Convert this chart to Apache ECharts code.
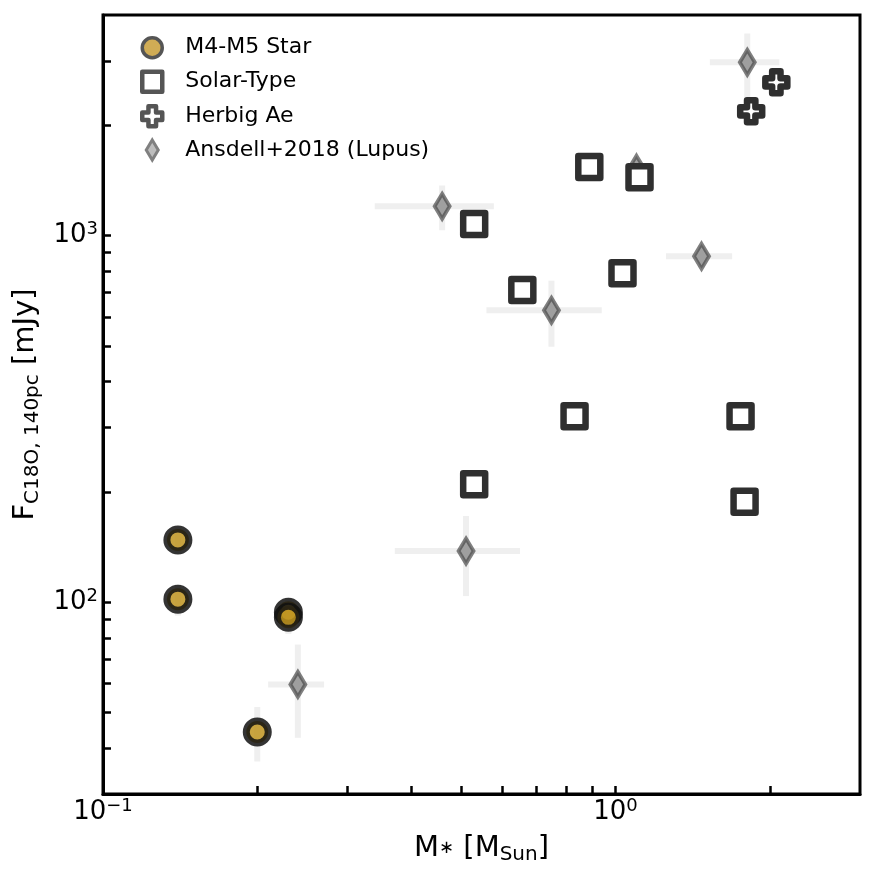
<!DOCTYPE html>
<html>
<head>
<meta charset="utf-8">
<script src="https://cdn.jsdelivr.net/npm/echarts@6/dist/echarts.min.js"></script>
<style>
html, body { margin: 0; padding: 0; background: #fff; }
#main { width: 875px; height: 875px; }
</style>
</head>
<body>
<div id="main"></div>
<script>
// M4-M5 stars
var m4Mass = [0.140, 0.140, 0.230, 0.230, 0.200];
var m4Flux = [148, 102, 94, 91, 44.3];
var m4FluxErr = [12, 10, 9, 9, 7.5];

// solar-type
var solarMass = [0.530, 0.889, 1.114, 0.658, 1.032, 0.832, 1.754, 0.530, 1.786];
var solarFlux = [1076, 1539, 1443, 711, 790, 322, 322, 210, 188];

// Herbig Ae
var herbigMass = [2.06, 1.84];
var herbigFlux = [2620, 2184];

// Ansdell+2018 (Lupus)
var lupusMass = [1.808, 1.099, 0.459, 1.472, 0.750, 0.511, 0.240];
var lupusMassErr = [0.28, 0.04, 0.12, 0.217, 0.19, 0.14, 0.03];
var lupusFlux = [2971, 1528, 1203, 879, 626, 138, 59.7];
var lupusFluxErr = [590, 80, 168, 60, 128, 34, 17];

// ticks
var xMajor = [0.1, 1];
var xTicks = [0.2, 0.3, 0.4, 0.5, 0.6, 0.7, 0.8, 0.9, 1, 2];
var yMajor = [100, 1000];
var yTicks = [40, 50, 60, 70, 80, 90, 100, 200, 300, 400, 500, 600, 700, 800, 900, 1000, 2000, 3000];

var FONT = 'DejaVu Sans';

function zip(xs, ys) {
	return xs.map(function (x, i) { return [x, ys[i]]; });
}

var m4Err = m4Mass.map(function (x, i) { return [x, m4Flux[i], 0, m4FluxErr[i]]; });
var lupusErr = lupusMass.map(function (x, i) { return [x, lupusFlux[i], lupusMassErr[i], lupusFluxErr[i]]; });

// 误差棒
function errRender(params, api) {
	var x = api.value(0), y = api.value(1), xe = api.value(2), ye = api.value(3);
	var style = { stroke: '#efefef', lineWidth: 6 };
	var children = [];
	if (xe > 0) {
		var a = api.coord([x - xe, y]), b = api.coord([x + xe, y]);
		children.push({ type: 'line', shape: { x1: a[0], y1: a[1], x2: b[0], y2: b[1] }, style: style });
	}
	if (ye > 0) {
		var c = api.coord([x, y - ye]), d = api.coord([x, y + ye]);
		children.push({ type: 'line', shape: { x1: c[0], y1: c[1], x2: d[0], y2: d[1] }, style: style });
	}
	return { type: 'group', children: children };
}

function powLabel(v) {
	var e = Math.round(Math.log10(v));
	return '{b|10}{s|' + (e < 0 ? '\u2212' + (-e) : e) + '}';
}

var labelRich = {
	b: { fontSize: 26, lineHeight: 30, fontFamily: FONT, color: '#000' },
	s: { fontSize: 18, lineHeight: 18, verticalAlign: 'top', fontFamily: FONT, color: '#000' }
};

var crossPath = 'path://M0.31,0 L0.69,0 L0.69,0.31 L1,0.31 L1,0.69 L0.69,0.69 L0.69,1 L0.31,1 L0.31,0.69 L0,0.69 L0,0.31 L0.31,0.31 Z';
var diamondPath = 'path://M3,0 L6,5 L3,10 L0,5 Z';

var myChart = echarts.init(document.getElementById('main'));
var option = {
	animation: false,
	grid: {
		left: 103, right: 15, top: 15, bottom: 81,
		show: true, borderColor: '#000', borderWidth: 3
	},
	legend: {
		orient: 'vertical',
		left: 135,
		top: 31,
		itemWidth: 20,
		itemHeight: 20,
		itemGap: 10,
		textStyle: { fontSize: 22, fontFamily: FONT, color: '#000', padding: [0, 0, 0, 18] },
		data: [
			{ name: 'M4-M5 Star', itemStyle: { color: '#d0ac55', borderColor: '#555', borderWidth: 3.5, opacity: 1 } },
			{ name: 'Solar-Type', itemStyle: { color: '#fff', borderColor: '#555', borderWidth: 4.5, opacity: 1 } },
			{ name: 'Herbig Ae', itemStyle: { color: '#fff', borderColor: '#555', borderWidth: 4.5, opacity: 1 } },
			{ name: 'Ansdell+2018 (Lupus)', itemStyle: { color: '#bdbdbd', borderColor: '#808080', borderWidth: 3, opacity: 1 } }
		]
	},
	xAxis: {
		type: 'log',
		logBase: 10,
		min: 0.1,
		max: 3.0,
		splitLine: { show: false },
		axisLine: { show: true, onZero: false, lineStyle: { color: '#000', width: 3 } },
		axisTick: { show: true, inside: true, length: 8, lineStyle: { color: '#000', width: 2.5 }, customValues: xTicks },
		minorTick: { show: false },
		axisLabel: { customValues: xMajor, formatter: powLabel, margin: 3, rich: labelRich },
		name: 'M{ast|\u2217} [M{sub|Sun}]',
		nameLocation: 'middle',
		nameGap: 37,
		nameTextStyle: {
			fontSize: 29, lineHeight: 34, fontFamily: FONT, color: '#000',
			rich: {
				ast: { fontSize: 18, lineHeight: 34, fontFamily: FONT, color: '#000' },
				sub: { fontSize: 20, lineHeight: 20, verticalAlign: 'bottom', fontFamily: FONT, color: '#000' }
			}
		}
	},
	yAxis: {
		type: 'log',
		logBase: 10,
		min: 30,
		max: 4000,
		splitLine: { show: false },
		axisLine: { show: true, onZero: false, lineStyle: { color: '#000', width: 3 } },
		axisTick: { show: true, inside: true, length: 8, lineStyle: { color: '#000', width: 2.5 }, customValues: yTicks },
		minorTick: { show: false },
		axisLabel: { customValues: yMajor, formatter: powLabel, margin: 5, rich: labelRich },
		name: 'F{sub|C18O, 140pc} [mJy]',
		nameLocation: 'middle',
		nameGap: 60,
		nameTextStyle: {
			fontSize: 29, lineHeight: 34, fontFamily: FONT, color: '#000',
			rich: {
				sub: { fontSize: 20, lineHeight: 20, verticalAlign: 'bottom', fontFamily: FONT, color: '#000' }
			}
		}
	},
	series: [
		{
			name: 'errLupus',
			type: 'custom',
			renderItem: errRender,
			data: lupusErr,
			encode: { x: 0, y: 1 },
			z: 1,
			silent: true
		},
		{
			name: 'errM4',
			type: 'custom',
			renderItem: errRender,
			data: m4Err,
			encode: { x: 0, y: 1 },
			z: 1,
			silent: true
		},
		{
			name: 'Ansdell+2018 (Lupus)',
			type: 'scatter',
			symbol: diamondPath,
			symbolSize: [15, 25],
			symbolKeepAspect: false,
			data: zip(lupusMass, lupusFlux),
			itemStyle: { color: '#7e7e7e', borderColor: '#4a4a4a', borderWidth: 4, opacity: 0.7 },
			z: 2
		},
		{
			name: 'M4-M5 Star',
			type: 'scatter',
			symbol: 'circle',
			symbolSize: 22,
			data: zip(m4Mass, m4Flux),
			itemStyle: { color: '#c0941f', borderColor: '#111', borderWidth: 7, opacity: 0.85 },
			z: 3
		},
		{
			name: 'Solar-Type',
			type: 'scatter',
			symbol: 'rect',
			symbolSize: 22,
			data: zip(solarMass, solarFlux),
			itemStyle: { color: '#fff', borderColor: '#2f2f2f', borderWidth: 6.5, borderJoin: 'round', opacity: 1 },
			z: 4
		},
		{
			name: 'Herbig Ae',
			type: 'scatter',
			symbol: crossPath,
			symbolSize: 22,
			data: zip(herbigMass, herbigFlux),
			itemStyle: { color: '#fff', borderColor: '#2f2f2f', borderWidth: 6.5, borderJoin: 'round', opacity: 1 },
			z: 5
		}
	]
};
myChart.setOption(option);
</script>
</body>
</html>
